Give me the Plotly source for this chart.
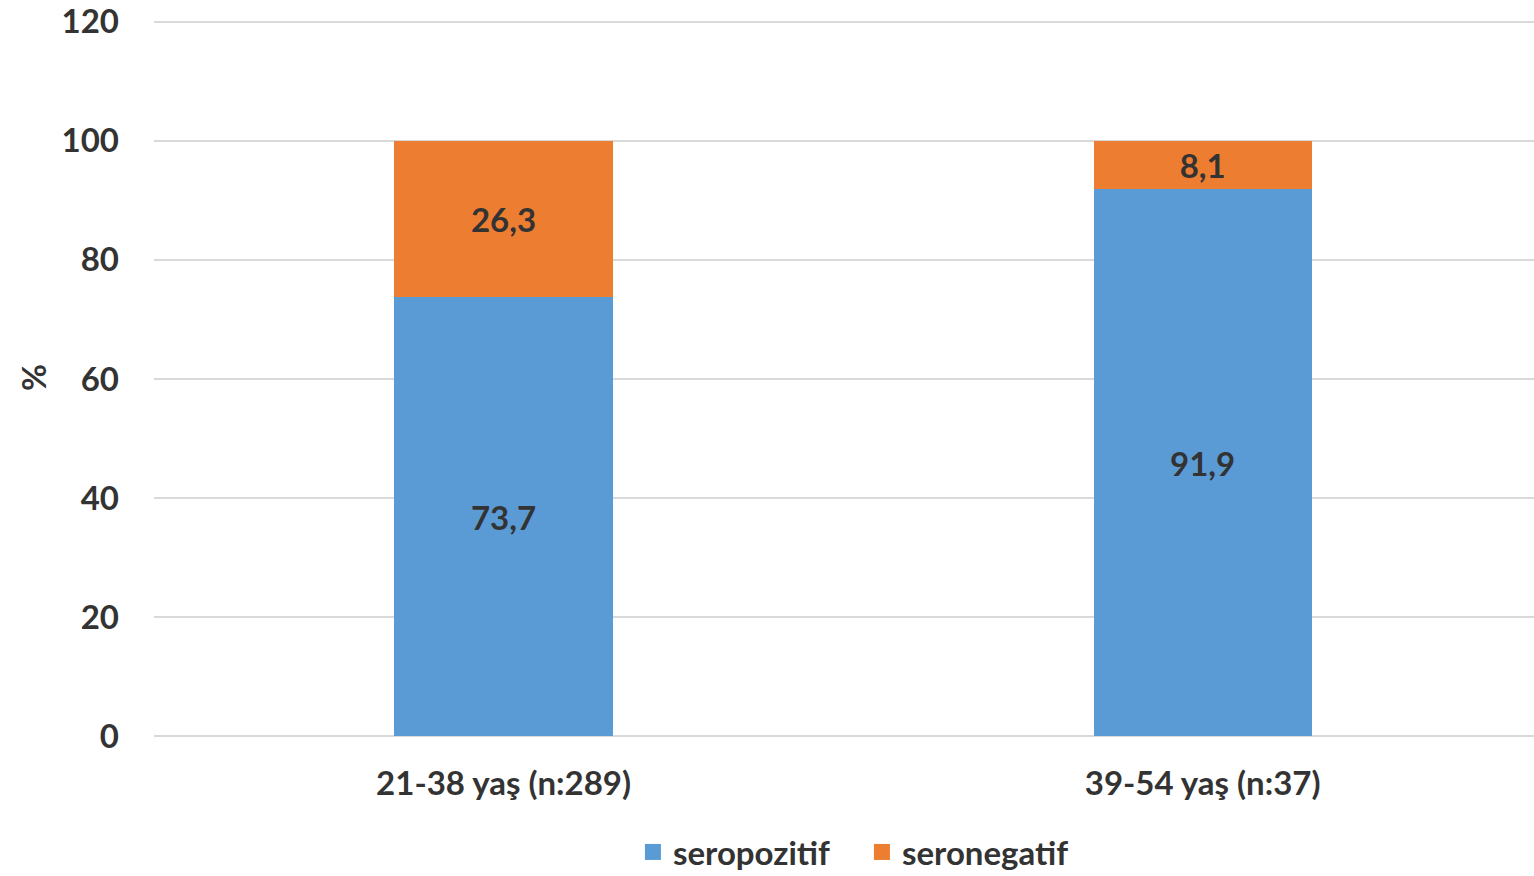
import plotly.graph_objects as go

categories = ["21-38 yaş (n:289)", "39-54 yaş (n:37)"]
seropozitif = [73.7, 91.9]
seronegatif = [26.3, 8.1]
y_ticks = [0, 20, 40, 60, 80, 100, 120]

FONT = "Lato, 'Open Sans', sans-serif"
TEXT = "#333333"
BLUE = "#5B9BD5"
ORANGE = "#ED7D31"

L_MARGIN = 154
PLOT_W = 1534 - L_MARGIN


def fmt(v):
    return f"{v:.1f}".replace(".", ",")


def tfont(size=33):
    return dict(family=FONT, size=size, color=TEXT, weight="bold")


x_pos = list(range(len(categories)))

fig = go.Figure()
for name, vals, color in [("seropozitif", seropozitif, BLUE),
                          ("seronegatif", seronegatif, ORANGE)]:
    fig.add_trace(go.Bar(
        x=x_pos, y=vals, name=name, showlegend=False,
        marker=dict(color=color, line=dict(width=0)),
        text=[fmt(v) for v in vals], textposition="inside",
        insidetextanchor="middle", textfont=tfont(),
        width=0.312,
    ))
    # legend entry with a square swatch
    fig.add_trace(go.Scatter(
        x=[None], y=[None], mode="markers", name=name,
        marker=dict(symbol="square", size=20, color=color),
    ))

fig.update_layout(
    barmode="stack",
    width=1534, height=876,
    margin=dict(l=L_MARGIN, r=0, t=10, b=140, autoexpand=False),
    paper_bgcolor="white", plot_bgcolor="white",
    font=tfont(),
    showlegend=True,
    legend=dict(
        orientation="h", x=0.513, xanchor="center",
        yref="container", y=(876 - 852) / 876, yanchor="middle",
        font=tfont(), itemwidth=30, traceorder="normal",
        entrywidth=184, entrywidthmode="pixels",
    ),
    xaxis=dict(
        tickvals=x_pos, ticktext=categories, range=[-0.5, 1.474],
        showgrid=False, showline=False, zeroline=False, ticks="",
        ticklabelstandoff=25, tickfont=tfont(),
    ),
    yaxis=dict(
        range=[0, 122], tickvals=y_ticks,
        showgrid=True, gridcolor="#D9D9D9", gridwidth=1.5,
        zeroline=True, zerolinecolor="#D9D9D9", zerolinewidth=1.5,
        showline=False, ticks="", ticklabelstandoff=34,
        tickfont=tfont(),
    ),
    annotations=[dict(
        text="%", textangle=-90, showarrow=False,
        xref="paper", x=(33 - L_MARGIN) / PLOT_W, xanchor="center",
        yref="paper", y=(736 - 378) / (876 - 10 - 140), yanchor="middle",
        font=tfont(),
    )],
)

fig.write_html("out.html")
